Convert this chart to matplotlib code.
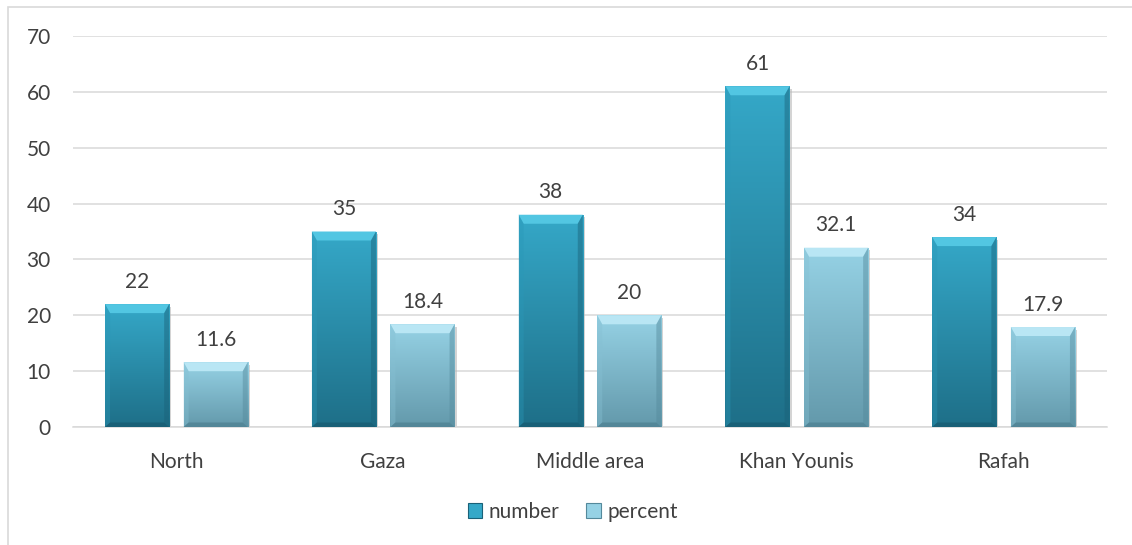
import matplotlib
matplotlib.use("Agg")
import matplotlib.pyplot as plt
from matplotlib.patches import Polygon, Rectangle
from matplotlib.colors import LinearSegmentedColormap
import numpy as np

regions = ["North", "Gaza", "Middle area", "Khan Younis", "Rafah"]
number = [22, 35, 38, 61, 34]
percent = [11.6, 18.4, 20, 32.1, 17.9]

plt.rcParams['font.family'] = ['Lato', 'DejaVu Sans']
TXT = "#404040"
FS = 15

W, H, DPI = 1132, 545, 100
fig = plt.figure(figsize=(W / DPI, H / DPI), dpi=DPI)
fig.patches.append(Rectangle((8 / W, -0.05), 1.1, 1 - 7 / H + 0.05, transform=fig.transFigure,
                             fill=False, edgecolor="#d9d9d9", linewidth=1.2))

ax = fig.add_axes([73 / W, 1 - 427 / H, (1107 - 73) / W, (427 - 36) / H])
xlim, ylim = (-0.5, 4.5), (0, 70)
px_x = (1107 - 73) / (xlim[1] - xlim[0])
px_y = (427 - 36) / (ylim[1] - ylim[0])

x = np.arange(len(regions))
bw, off = 0.31, 0.19

# colours: (top of gradient, bottom of gradient, top bevel, left, right, bottom)
styles = {
    "number": ("#35a8c8", "#1e6f88", "#52c6e2", "#2a98b8", "#1a6178", "#175a70"),
    "percent": ("#96d2e5", "#6399ab", "#b9e6f4", "#86c0d3", "#54899b", "#4d7f90"),
}


def bevel_bars(bars, key, z=3):
    top_c, bot_c, bev_t, bev_l, bev_r, bev_b = styles[key]
    cmap = LinearSegmentedColormap.from_list(key, [bot_c, top_c])
    dx, dy = 5 / px_x, 9 / px_y
    for b in bars:
        x0, w, h = b.get_x(), b.get_width(), b.get_height()
        x1 = x0 + w
        grad = np.linspace(0, 1, 256).reshape(-1, 1)
        im = ax.imshow(grad, extent=[x0, x1, 0, h], origin="lower", aspect="auto",
                       cmap=cmap, zorder=z, interpolation="bilinear")
        im.set_clip_path(b)
        d = min(dy, h / 3)
        ax.add_patch(Polygon([(x0, h), (x1, h), (x1 - dx, h - d), (x0 + dx, h - d)],
                             closed=True, facecolor=bev_t, edgecolor="none", zorder=z + 1))
        ax.add_patch(Polygon([(x0, 0), (x0, h), (x0 + dx, h - d), (x0 + dx, d * 0.5)],
                             closed=True, facecolor=bev_l, edgecolor="none", alpha=0.4, zorder=z + 1))
        ax.add_patch(Polygon([(x1, 0), (x1, h), (x1 - dx, h - d), (x1 - dx, d * 0.5)],
                             closed=True, facecolor=bev_r, edgecolor="none", alpha=0.45, zorder=z + 1))
        ax.add_patch(Polygon([(x0, 0), (x1, 0), (x1 - dx, d * 0.5), (x0 + dx, d * 0.5)],
                             closed=True, facecolor=bev_b, edgecolor="none", alpha=0.7, zorder=z + 1))
        # soft shadow on the right
        ax.add_patch(Rectangle((x1, 0), 2 / px_x, h - d * 0.3, facecolor="#b8b8b8",
                               edgecolor="none", alpha=0.6, zorder=z - 1))


b1 = ax.bar(x - off, number, bw, color="none", zorder=3)
b2 = ax.bar(x + off, percent, bw, color="none", zorder=3)
bevel_bars(b1, "number")
bevel_bars(b2, "percent")

for bars, vals in ((b1, number), (b2, percent)):
    for b, v in zip(bars, vals):
        ax.annotate(f"{v:g}", (b.get_x() + b.get_width() / 2, v), xytext=(0, 9),
                    textcoords="offset points", ha="center", va="bottom",
                    fontsize=FS, color=TXT, zorder=6)

ax.set_xlim(*xlim)
ax.set_ylim(*ylim)
ax.set_yticks(range(0, 71, 10))
ax.set_xticks(x)
ax.set_xticklabels(regions)
ax.grid(axis="y", color="#d9d9d9", linewidth=1.1, zorder=0)
ax.set_axisbelow(True)
for s in ("top", "right", "left"):
    ax.spines[s].set_visible(False)
ax.spines["bottom"].set_color("#d9d9d9")
ax.spines["bottom"].set_linewidth(1.1)
ax.tick_params(axis="both", length=0, labelsize=FS, labelcolor=TXT)
ax.tick_params(axis="y", pad=16)
ax.tick_params(axis="x", pad=18)

handles = [Rectangle((0, 0), 1, 1, facecolor=styles[k][0], edgecolor=styles[k][4], linewidth=0.8)
           for k in ("number", "percent")]
fig.legend(handles, ["number", "percent"], loc="center", bbox_to_anchor=(0.506, 1 - 512 / H),
           ncol=2, frameon=False, fontsize=FS, labelcolor=TXT, handlelength=0.7,
           handleheight=0.7, handletextpad=0.3, columnspacing=1.3)

fig.savefig("out.png", dpi=DPI)
